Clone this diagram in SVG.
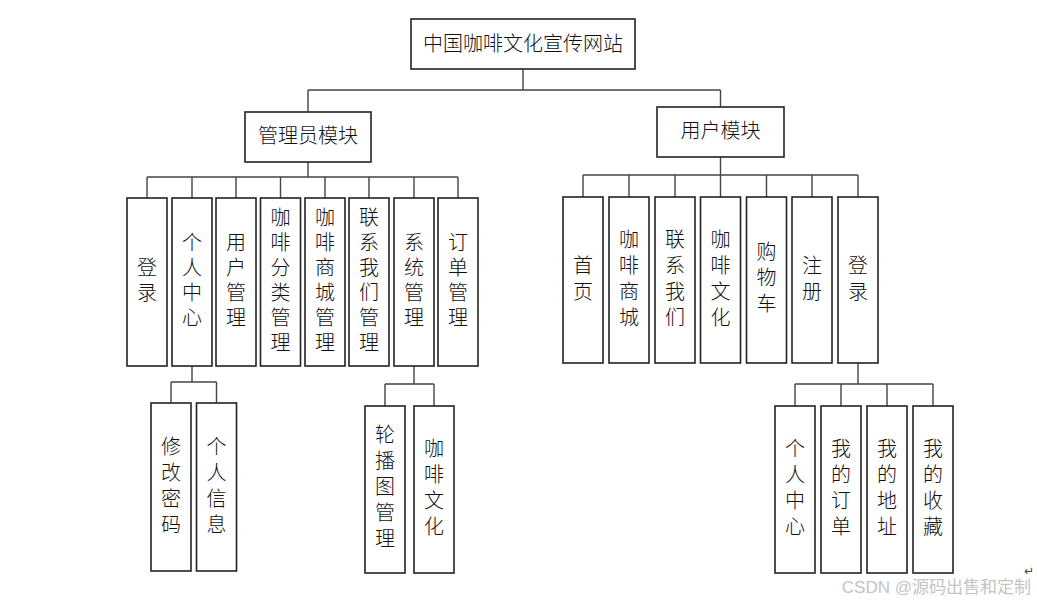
<svg xmlns="http://www.w3.org/2000/svg" width="1037" height="604" viewBox="0 0 1037 604">
<style>
.box{fill:#fff;stroke:#222;stroke-width:1.6}
.t{font-family:"Liberation Sans","Noto Sans CJK SC",sans-serif;font-size:20px;font-weight:300;fill:#111;text-anchor:middle;dominant-baseline:central}
.c{fill:none;stroke:#444;stroke-width:1.4}
</style>
<rect width="1037" height="604" fill="#fff"/>
<g id="connectors">
<path class="c" d="M523,69V90M308,90H720.5M308,90V112M720.5,90V107"/>
<path class="c" d="M308,162V177M147,177H458M147,177V198M192,177V198M236,177V198M280.5,177V198M325,177V198M369,177V198M414,177V198M458,177V198"/>
<path class="c" d="M192,366V382M171,382H216.5M171,382V403M216.5,382V403"/>
<path class="c" d="M414,366V384M385,384H434M385,384V406M434,384V406"/>
<path class="c" d="M720.5,157V175M583,175H858M583,175V197M629,175V197M675,175V197M720.5,175V197M766.5,175V197M812,175V197M858,175V197"/>
<path class="c" d="M858,363V384M795,384H933M795,384V406M841,384V406M887,384V406M933,384V406"/>
</g>
<g id="root"><rect class="box" x="411" y="19" width="224" height="50"/><text class="t" x="523" y="44">中国咖啡文化宣传网站</text></g>
<g id="admin"><rect class="box" x="245" y="112" width="126" height="50"/><text class="t" x="308" y="136">管理员模块</text></g>
<g id="user"><rect class="box" x="657" y="107" width="127" height="50"/><text class="t" x="720.5" y="131">用户模块</text></g>

<g id="a-login"><rect class="box" x="127" y="198" width="40" height="168"/><text class="t" x="147" y="268">登</text><text class="t" x="147" y="293">录</text></g>
<g id="a-center"><rect class="box" x="172" y="198" width="40" height="168"/><text class="t" x="192" y="243">个</text><text class="t" x="192" y="268">人</text><text class="t" x="192" y="293">中</text><text class="t" x="192" y="318">心</text></g>
<g id="a-usermgr"><rect class="box" x="216" y="198" width="40" height="168"/><text class="t" x="236" y="243">用</text><text class="t" x="236" y="268">户</text><text class="t" x="236" y="293">管</text><text class="t" x="236" y="318">理</text></g>
<g id="a-category"><rect class="box" x="260.5" y="198" width="40" height="168"/><text class="t" x="280.5" y="218">咖</text><text class="t" x="280.5" y="243">啡</text><text class="t" x="280.5" y="268">分</text><text class="t" x="280.5" y="293">类</text><text class="t" x="280.5" y="318">管</text><text class="t" x="280.5" y="343">理</text></g>
<g id="a-mall"><rect class="box" x="305" y="198" width="40" height="168"/><text class="t" x="325" y="218">咖</text><text class="t" x="325" y="243">啡</text><text class="t" x="325" y="268">商</text><text class="t" x="325" y="293">城</text><text class="t" x="325" y="318">管</text><text class="t" x="325" y="343">理</text></g>
<g id="a-contact"><rect class="box" x="349" y="198" width="40" height="168"/><text class="t" x="369" y="218">联</text><text class="t" x="369" y="243">系</text><text class="t" x="369" y="268">我</text><text class="t" x="369" y="293">们</text><text class="t" x="369" y="318">管</text><text class="t" x="369" y="343">理</text></g>
<g id="a-system"><rect class="box" x="394" y="198" width="40" height="168"/><text class="t" x="414" y="243">系</text><text class="t" x="414" y="268">统</text><text class="t" x="414" y="293">管</text><text class="t" x="414" y="318">理</text></g>
<g id="a-order"><rect class="box" x="438" y="198" width="40" height="168"/><text class="t" x="458" y="243">订</text><text class="t" x="458" y="268">单</text><text class="t" x="458" y="293">管</text><text class="t" x="458" y="318">理</text></g>

<g id="a-pwd"><rect class="box" x="151" y="403" width="40" height="168"/><text class="t" x="171" y="447">修</text><text class="t" x="171" y="473">改</text><text class="t" x="171" y="499">密</text><text class="t" x="171" y="525">码</text></g>
<g id="a-info"><rect class="box" x="196.5" y="403" width="40" height="168"/><text class="t" x="216.5" y="447">个</text><text class="t" x="216.5" y="473">人</text><text class="t" x="216.5" y="499">信</text><text class="t" x="216.5" y="525">息</text></g>
<g id="a-carousel"><rect class="box" x="365" y="406" width="40" height="167"/><text class="t" x="385" y="435">轮</text><text class="t" x="385" y="461">播</text><text class="t" x="385" y="487">图</text><text class="t" x="385" y="513">管</text><text class="t" x="385" y="539">理</text></g>
<g id="a-culture"><rect class="box" x="414" y="406" width="40" height="167"/><text class="t" x="434" y="449">咖</text><text class="t" x="434" y="475">啡</text><text class="t" x="434" y="501">文</text><text class="t" x="434" y="527">化</text></g>

<g id="u-home"><rect class="box" x="563" y="197" width="40" height="166"/><text class="t" x="583" y="266">首</text><text class="t" x="583" y="292">页</text></g>
<g id="u-mall"><rect class="box" x="609" y="197" width="40" height="166"/><text class="t" x="629" y="240">咖</text><text class="t" x="629" y="266">啡</text><text class="t" x="629" y="292">商</text><text class="t" x="629" y="318">城</text></g>
<g id="u-contact"><rect class="box" x="655" y="197" width="40" height="166"/><text class="t" x="675" y="240">联</text><text class="t" x="675" y="266">系</text><text class="t" x="675" y="292">我</text><text class="t" x="675" y="318">们</text></g>
<g id="u-culture"><rect class="box" x="700.5" y="197" width="40" height="166"/><text class="t" x="720.5" y="240">咖</text><text class="t" x="720.5" y="266">啡</text><text class="t" x="720.5" y="292">文</text><text class="t" x="720.5" y="318">化</text></g>
<g id="u-cart"><rect class="box" x="746.5" y="197" width="40" height="166"/><text class="t" x="766.5" y="252">购</text><text class="t" x="766.5" y="278">物</text><text class="t" x="766.5" y="304">车</text></g>
<g id="u-register"><rect class="box" x="792" y="197" width="40" height="166"/><text class="t" x="812" y="266">注</text><text class="t" x="812" y="292">册</text></g>
<g id="u-login"><rect class="box" x="838" y="197" width="40" height="166"/><text class="t" x="858" y="266">登</text><text class="t" x="858" y="292">录</text></g>

<g id="u-center"><rect class="box" x="775" y="406" width="40" height="167"/><text class="t" x="795" y="449">个</text><text class="t" x="795" y="475">人</text><text class="t" x="795" y="501">中</text><text class="t" x="795" y="527">心</text></g>
<g id="u-orders"><rect class="box" x="821" y="406" width="40" height="167"/><text class="t" x="841" y="449">我</text><text class="t" x="841" y="475">的</text><text class="t" x="841" y="501">订</text><text class="t" x="841" y="527">单</text></g>
<g id="u-address"><rect class="box" x="867" y="406" width="40" height="167"/><text class="t" x="887" y="449">我</text><text class="t" x="887" y="475">的</text><text class="t" x="887" y="501">地</text><text class="t" x="887" y="527">址</text></g>
<g id="u-favorites"><rect class="box" x="913" y="406" width="40" height="167"/><text class="t" x="933" y="449">我</text><text class="t" x="933" y="475">的</text><text class="t" x="933" y="501">收</text><text class="t" x="933" y="527">藏</text></g>

<text x="1029" y="575" font-family="DejaVu Sans,sans-serif" font-size="12" fill="#444" text-anchor="middle">↵</text>
<text x="1031" y="593" font-family="'Liberation Sans','Noto Sans CJK SC',sans-serif" font-size="17" fill="#c4c4c4" text-anchor="end">CSDN @源码出售和定制</text>
</svg>
